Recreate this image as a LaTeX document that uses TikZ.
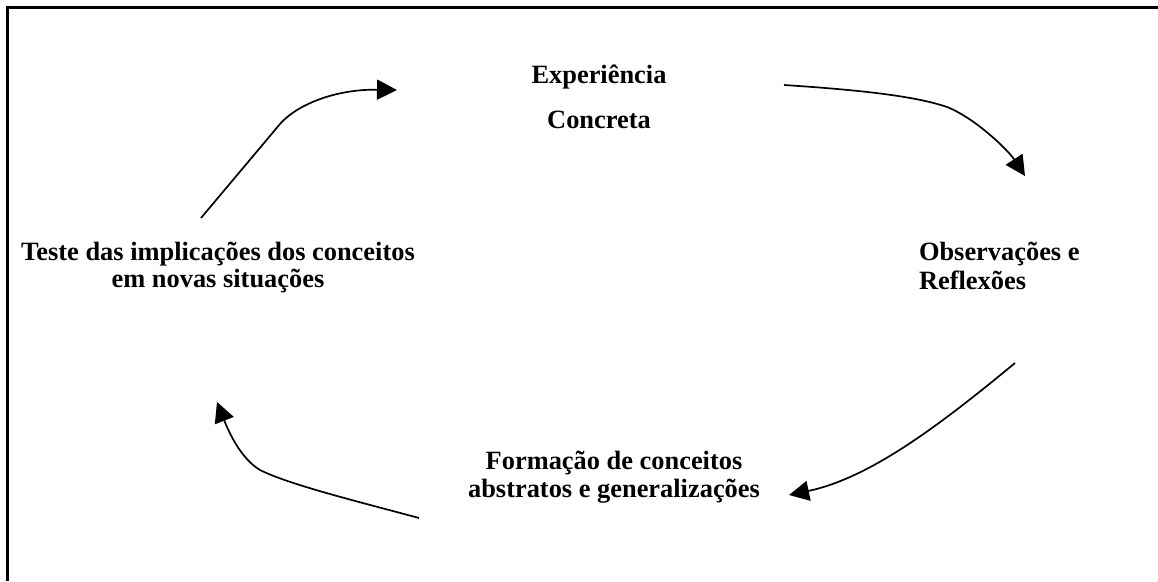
\documentclass[tikz,border=0pt]{standalone}
\usepackage{fontspec}
\setmainfont{Liberation Serif}
\usetikzlibrary{arrows.meta}
\tikzset{
  lbl/.style={inner sep=0pt, outer sep=0pt, font=\fontsize{26.4}{27.5}\selectfont\bfseries},
  cyc/.style={line width=1.7pt, -{Triangle[length=20pt,width=20pt]}},
  frame/.style={line width=2.7pt}
}
\begin{document}
\begin{tikzpicture}[x=1pt,y=-1pt]
\useasboundingbox (0,0) rectangle (1158,581);
\draw[frame] (1158,7.5) -- (7.5,7.5) -- (7.5,581);

\node[lbl, anchor=base, align=center] (exp) at (599,128.3) {Experiência\\[17.5pt]Concreta};
\node[lbl, anchor=base west, align=left] (obs) at (919,289) {Observações e\\[1.5pt]Reflexões};
\node[lbl, anchor=base, align=center] (form) at (614,497) {Formação de conceitos\\abstratos e generalizações};
\node[lbl, anchor=base, align=center] (test) at (218,287.5) {Teste das implicações dos conceitos\\em novas situações};

\coordinate (a1s) at (201,218);
\coordinate (a1m) at (280,124);
\coordinate (a1e) at (397,90);
\coordinate (a2s) at (784,85);
\coordinate (a2m) at (947,107);
\coordinate (a2e) at (1025,176);
\coordinate (a3s) at (1015,363);
\coordinate (a3e) at (789,495);
\coordinate (a4s) at (419,518);
\coordinate (a4m) at (260,470);
\coordinate (a4e) at (217,402);

\draw[cyc] (a1s) -- (a1m) .. controls (296.5,105) and (335,89) .. (a1e);
\draw[cyc] (a2s) .. controls (860,90) and (915,96) .. (a2m) .. controls (975,118) and (1008,150) .. (a2e);
\draw[cyc] (a3s) .. controls (940,425) and (870,478) .. (a3e);
\draw[cyc] (a4s) .. controls (360,502) and (290,485) .. (a4m) .. controls (240,458) and (228,430) .. (a4e);
\end{tikzpicture}
\end{document}
